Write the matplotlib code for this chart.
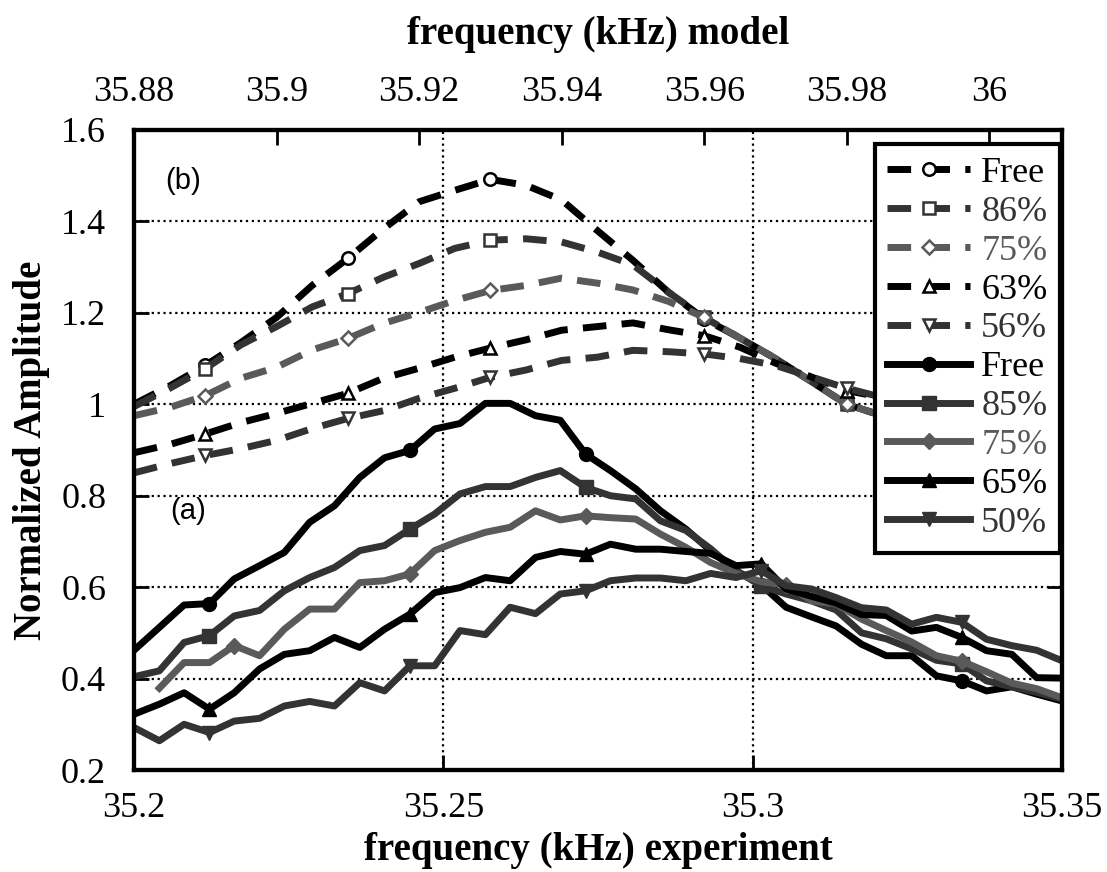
import matplotlib
matplotlib.use('Agg')
import matplotlib.pyplot as plt

plt.rcParams['font.family'] = ['Liberation Serif', 'DejaVu Serif']

# ---- experiment (bottom axis) ----
freq_exp = [35.2000, 35.2041, 35.2081, 35.2122, 35.2162, 35.2203, 35.2243, 35.2284,
            35.2324, 35.2365, 35.2405, 35.2446, 35.2486, 35.2527, 35.2568, 35.2608,
            35.2649, 35.2689, 35.2730, 35.2770, 35.2811, 35.2851, 35.2892, 35.2932,
            35.2973, 35.3014, 35.3054, 35.3095, 35.3135, 35.3176, 35.3216, 35.3257,
            35.3297, 35.3338, 35.3378, 35.3419, 35.3459, 35.3500]

exp_free = [0.462, 0.512, 0.561, 0.564, 0.618, 0.647, 0.676, 0.742, 0.778, 0.840,
            0.883, 0.899, 0.946, 0.958, 1.002, 1.002, 0.975, 0.965, 0.891, 0.855,
            0.815, 0.767, 0.727, 0.680, 0.636, 0.605, 0.556, 0.535, 0.515, 0.475,
            0.450, 0.450, 0.406, 0.395, 0.373, 0.382, 0.366, 0.351]
exp_85 = [0.404, 0.417, 0.479, 0.494, 0.537, 0.549, 0.592, 0.621, 0.643, 0.680,
          0.691, 0.727, 0.760, 0.804, 0.820, 0.820, 0.840, 0.855, 0.818, 0.800,
          0.793, 0.745, 0.724, 0.684, 0.636, 0.603, 0.585, 0.570, 0.550, 0.500,
          0.487, 0.465, 0.440, 0.432, 0.395, 0.382, 0.370, 0.355]
# 75% starts one step later
exp_75 = [0.379, 0.435, 0.435, 0.472, 0.450, 0.508, 0.552, 0.552, 0.610,
          0.614, 0.629, 0.680, 0.702, 0.720, 0.731, 0.767, 0.747, 0.756, 0.752,
          0.749, 0.716, 0.687, 0.654, 0.630, 0.612, 0.605, 0.570, 0.563, 0.530,
          0.505, 0.480, 0.450, 0.438, 0.415, 0.390, 0.378, 0.358]
exp_65 = [0.322, 0.344, 0.369, 0.333, 0.369, 0.421, 0.453, 0.461, 0.490, 0.468,
          0.508, 0.541, 0.588, 0.599, 0.621, 0.614, 0.665, 0.678, 0.672, 0.694,
          0.683, 0.683, 0.678, 0.674, 0.647, 0.651, 0.596, 0.580, 0.565, 0.540,
          0.538, 0.504, 0.512, 0.490, 0.461, 0.453, 0.402, 0.401]
exp_50 = [0.293, 0.264, 0.300, 0.282, 0.307, 0.313, 0.340, 0.350, 0.340, 0.391,
          0.373, 0.428, 0.428, 0.505, 0.496, 0.556, 0.542, 0.585, 0.592, 0.614,
          0.620, 0.620, 0.614, 0.630, 0.621, 0.636, 0.603, 0.596, 0.577, 0.555,
          0.550, 0.519, 0.534, 0.523, 0.486, 0.472, 0.462, 0.439]

# ---- model (top axis) ----
freq_model = [35.880, 35.885, 35.890, 35.895, 35.900, 35.905, 35.910, 35.915,
              35.920, 35.925, 35.930, 35.935, 35.940, 35.945, 35.950, 35.955,
              35.960, 35.965, 35.970, 35.975, 35.980, 35.985]
model_free = [1.000, 1.040, 1.085, 1.135, 1.190, 1.260, 1.319, 1.384, 1.443, 1.468,
              1.492, 1.479, 1.447, 1.380, 1.315, 1.245, 1.187, 1.145, 1.100, 1.050,
              1.000, 0.975]
model_86 = [0.995, 1.035, 1.078, 1.130, 1.170, 1.213, 1.242, 1.278, 1.308, 1.341,
            1.359, 1.362, 1.355, 1.333, 1.305, 1.245, 1.190, 1.145, 1.100, 1.050,
            1.000, 0.975]
model_75 = [0.975, 0.993, 1.019, 1.057, 1.081, 1.119, 1.144, 1.177, 1.201, 1.227,
            1.249, 1.260, 1.276, 1.265, 1.250, 1.225, 1.190, 1.145, 1.100, 1.050,
            1.000, 0.975]
model_63 = [0.894, 0.912, 0.935, 0.960, 0.980, 1.002, 1.024, 1.057, 1.079, 1.103,
            1.123, 1.141, 1.162, 1.170, 1.178, 1.163, 1.150, 1.125, 1.090, 1.060,
            1.030, 1.015]
model_56 = [0.850, 0.870, 0.888, 0.903, 0.921, 0.947, 0.969, 0.986, 1.013, 1.035,
            1.059, 1.075, 1.096, 1.103, 1.118, 1.115, 1.110, 1.100, 1.085, 1.060,
            1.035, 1.015]

exp_ticks = [35.2, 35.25, 35.3, 35.35]
exp_ticklabels = ['35.2', '35.25', '35.3', '35.35']
model_ticks = [35.88, 35.9, 35.92, 35.94, 35.96, 35.98, 36.0]
model_ticklabels = ['35.88', '35.9', '35.92', '35.94', '35.96', '35.98', '36']
amp_ticks = [0.2, 0.4, 0.6, 0.8, 1.0, 1.2, 1.4, 1.6]
amp_ticklabels = ['0.2', '0.4', '0.6', '0.8', '1', '1.2', '1.4', '1.6']

DARK = '#333333'
MID = '#5a5a5a'
LW = 5
DASH = (0, (3.4, 2.2))

fig = plt.figure(figsize=(11.07, 8.72), dpi=100)
ax = fig.add_axes([134 / 1107, 102 / 872, 928 / 1107, 640 / 872])
ax2 = ax.twiny()

ax.set_xlim(35.2, 35.35)
ax.set_ylim(0.2, 1.6)
ax2.set_xlim(35.88, 36.0102)

# experiment: solid lines, filled markers
mk = [3, 11, 18, 25, 33]
h_free = ax.plot(freq_exp, exp_free, color='black', lw=LW, marker='o', ms=10,
                 markevery=mk, label='Free')[0]
h_85 = ax.plot(freq_exp, exp_85, color=DARK, lw=LW, marker='s', ms=10,
               markevery=mk, label='85%')[0]
h_75 = ax.plot(freq_exp[1:], exp_75, color=MID, lw=LW, marker='D', ms=8,
               markevery=[3, 10, 17, 25, 32], label='75%')[0]
h_65 = ax.plot(freq_exp, exp_65, color='black', lw=LW, marker='^', ms=10,
               markevery=mk, label='65%')[0]
h_50 = ax.plot(freq_exp, exp_50, color=DARK, lw=LW, marker='v', ms=10,
               markevery=mk, label='50%')[0]

# model: dashed lines, open markers
mm = [2, 6, 10, 16, 20]
kw = dict(lw=LW, ls=DASH, ms=9, mfc='white', mew=1.8, markevery=mm)
m_free = ax2.plot(freq_model, model_free, color='black', marker='o', label='Free', **kw)[0]
m_86 = ax2.plot(freq_model, model_86, color=DARK, marker='s', label='86%', **kw)[0]
m_75 = ax2.plot(freq_model, model_75, color=MID, marker='D', label='75%',
                **dict(kw, ms=7))[0]
m_63 = ax2.plot(freq_model, model_63, color='black', marker='^', label='63%', **kw)[0]
m_56 = ax2.plot(freq_model, model_56, color=DARK, marker='v', label='56%', **kw)[0]

# ticks
ax.set_xticks(exp_ticks)
ax.set_xticklabels(exp_ticklabels)
ax.set_yticks(amp_ticks)
ax.set_yticklabels(amp_ticklabels)
ax.tick_params(axis='both', direction='in', length=11, width=2, labelsize=26)
ax.tick_params(axis='x', pad=16)
ax.tick_params(axis='y', pad=20, right=True)
ax2.set_xticks(model_ticks)
ax2.set_xticklabels(model_ticklabels)
ax2.tick_params(axis='x', direction='in', length=11, width=2, labelsize=26, pad=15)

for a in (ax, ax2):
    for s in a.spines.values():
        s.set_linewidth(3)

ax.grid(True, linestyle=':', color='black', linewidth=1.6)

ax.set_xlabel('frequency (kHz) experiment', fontsize=28, fontweight='bold', labelpad=5)
ax.set_ylabel('Normalized Amplitude', fontsize=28, fontweight='bold', labelpad=8)
ax2.set_xlabel('frequency (kHz) model', fontsize=28, fontweight='bold', labelpad=23)

ax.text(35.2079, 1.488, '(b)', fontsize=21, family='Liberation Sans',
        ha='center', va='center')
ax.text(35.2087, 0.767, '(a)', fontsize=21, family='Liberation Sans',
        ha='center', va='center')

handles = [m_free, m_86, m_75, m_63, m_56, h_free, h_85, h_75, h_65, h_50]
leg = ax2.legend(handles=handles, loc='upper right', bbox_to_anchor=(0.998, 0.978),
                 borderaxespad=0, fontsize=26, labelcolor='linecolor', frameon=True,
                 fancybox=False, framealpha=1, edgecolor='black', borderpad=0.35,
                 labelspacing=0.155, handlelength=2.3, handletextpad=0.3)
leg.get_frame().set_linewidth(3)

fig.savefig('out.png', dpi=100)
